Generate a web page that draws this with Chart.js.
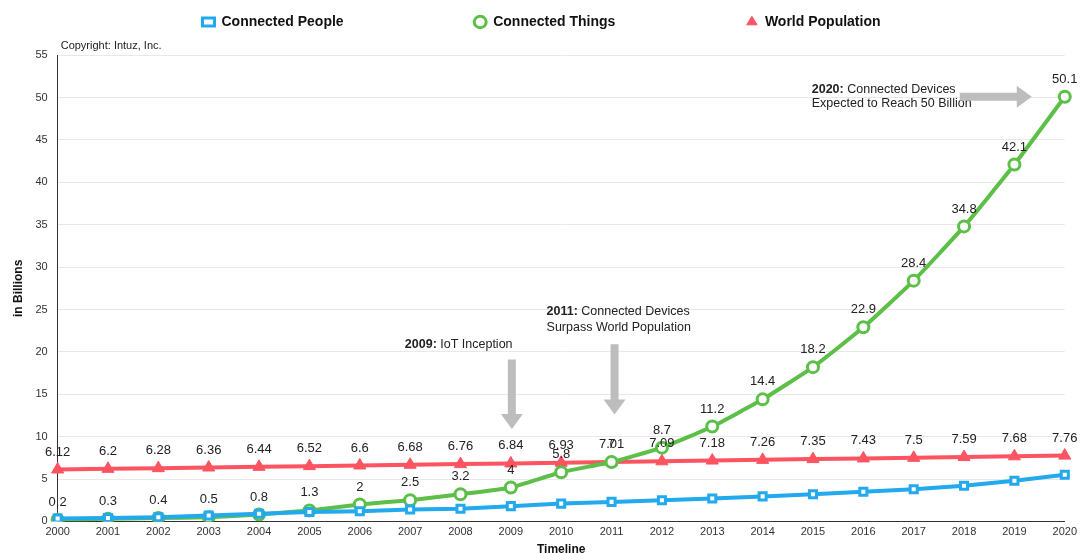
<!DOCTYPE html>
<html>
<head>
<meta charset="utf-8">
<script src="https://cdn.jsdelivr.net/npm/chart.js@4.4.0/dist/chart.umd.min.js"></script>
<style>
  html, body { margin: 0; padding: 0; background: #fff; }
  #wrap { width: 1081px; height: 553px; }
</style>
</head>
<body>
<div id="wrap"><canvas id="iot-chart"></canvas></div>
<script>
var years = ["2000","2001","2002","2003","2004","2005","2006","2007","2008","2009","2010",
             "2011","2012","2013","2014","2015","2016","2017","2018","2019","2020"];
var connectedPeople = [0.35, 0.4, 0.5, 0.7, 0.9, 1.1, 1.2, 1.4, 1.5, 1.8, 2.1,
                       2.3, 2.5, 2.7, 2.95, 3.2, 3.5, 3.8, 4.2, 4.8, 5.5];
var connectedThings = [0.2, 0.3, 0.4, 0.5, 0.8, 1.3, 2, 2.5, 3.2, 4, 5.8,
                       7, 8.7, 11.2, 14.4, 18.2, 22.9, 28.4, 34.8, 42.1, 50.1];
var worldPopulation = [6.12, 6.2, 6.28, 6.36, 6.44, 6.52, 6.6, 6.68, 6.76, 6.84, 6.93,
                       7.01, 7.09, 7.18, 7.26, 7.35, 7.43, 7.5, 7.59, 7.68, 7.76];
var yTicks = [0, 5, 10, 15, 20, 25, 30, 35, 40, 45, 50, 55];

var FONT = "'Liberation Sans', Arial, Helvetica, sans-serif";
var GAP = "\u00a0".repeat(31);

// value labels above the points (green and red series only)
var valueLabels = {
	id: "valueLabels",
	afterDatasetsDraw: function (chart) {
		var ctx = chart.ctx;
		ctx.save();
		ctx.font = "13px " + FONT;
		ctx.fillStyle = "#222";
		ctx.textAlign = "center";
		ctx.textBaseline = "bottom";
		[1, 2].forEach(function (di) {
			var meta = chart.getDatasetMeta(di);
			var data = chart.data.datasets[di].data;
			meta.data.forEach(function (pt, i) {
				ctx.fillText(String(data[i]), pt.x, pt.y - 11);
			});
		});
		ctx.restore();
	}
};

function grayArrow(ctx, x1, y1, x2, y2) {
	var ang = Math.atan2(y2 - y1, x2 - x1);
	var len = Math.hypot(x2 - x1, y2 - y1);
	var head = 15, shaft = 4, hw = 11;
	ctx.save();
	ctx.translate(x1, y1);
	ctx.rotate(ang);
	ctx.fillStyle = "#bdbdbd";
	ctx.beginPath();
	ctx.moveTo(0, -shaft);
	ctx.lineTo(len - head, -shaft);
	ctx.lineTo(len - head, -hw);
	ctx.lineTo(len, 0);
	ctx.lineTo(len - head, hw);
	ctx.lineTo(len - head, shaft);
	ctx.lineTo(0, shaft);
	ctx.closePath();
	ctx.fill();
	ctx.restore();
}

function noteText(ctx, x, y, bold, rest) {
	ctx.font = "bold 12.5px " + FONT;
	ctx.fillText(bold, x, y);
	var w = ctx.measureText(bold).width;
	ctx.font = "12.5px " + FONT;
	ctx.fillText(rest, x + w, y);
}

var notes = {
	id: "notes",
	afterDraw: function (chart) {
		var ctx = chart.ctx;
		var xs = chart.scales.x, ys = chart.scales.y;
		ctx.save();
		ctx.fillStyle = "#222";
		ctx.textBaseline = "middle";
		ctx.textAlign = "left";

		// 2009
		var x09 = xs.getPixelForValue(9);
		noteText(ctx, x09 - 106, ys.getPixelForValue(20.9), "2009:", " IoT Inception");
		grayArrow(ctx, x09 + 1, ys.getPixelForValue(19.1), x09 + 1, ys.getPixelForValue(10.9));

		// 2011
		var x11 = xs.getPixelForValue(11);
		noteText(ctx, x11 - 65, ys.getPixelForValue(24.7), "2011:", " Connected Devices");
		ctx.font = "12.5px " + FONT;
		ctx.fillText("Surpass World Population", x11 - 65, ys.getPixelForValue(22.9));
		grayArrow(ctx, x11 + 3, ys.getPixelForValue(20.9), x11 + 3, ys.getPixelForValue(12.6));

		// 2020
		var x20 = xs.getPixelForValue(20);
		noteText(ctx, x20 - 253, ys.getPixelForValue(51.0), "2020:", " Connected Devices");
		ctx.font = "12.5px " + FONT;
		ctx.fillText("Expected to Reach 50 Billion", x20 - 253, ys.getPixelForValue(49.3));
		grayArrow(ctx, x20 - 105, ys.getPixelForValue(50.1), x20 - 33, ys.getPixelForValue(50.1));
		ctx.restore();
	}
};

var ctx1 = document.getElementById("iot-chart");

var chart1 = new Chart(ctx1, {
	type: "line",
	data: {
		labels: years,
		datasets: [
			{
				label: "Connected People",
				data: connectedPeople,
				borderColor: "#22a9ee",
				backgroundColor: "#ffffff",
				borderWidth: 4,
				pointStyle: "rect",
				pointRadius: 5,
				pointBorderWidth: 3,
				pointBackgroundColor: "#ffffff",
				tension: 0
			},
			{
				label: "Connected Things",
				data: connectedThings,
				borderColor: "#5cbf48",
				backgroundColor: "#ffffff",
				borderWidth: 4,
				pointStyle: "circle",
				pointRadius: 5.5,
				pointBorderWidth: 3,
				pointBackgroundColor: "#ffffff",
				tension: 0.15
			},
			{
				label: "World Population",
				data: worldPopulation,
				borderColor: "#fd5461",
				backgroundColor: "#fd5461",
				borderWidth: 4,
				pointStyle: "triangle",
				pointRadius: 7,
				pointBorderWidth: 1,
				pointBackgroundColor: "#fd5461",
				tension: 0
			}
		]
	},
	options: {
		responsive: true,
		maintainAspectRatio: false,
		animation: false,
		layout: { padding: { left: 11, right: 9, top: 5, bottom: -4 } },
		plugins: {
			legend: {
				display: true,
				position: "top",
				labels: {
					usePointStyle: true,
					pointStyleWidth: 12,
					boxHeight: 8,
					padding: 10,
					color: "#111",
					font: { family: FONT, size: 14, weight: "bold" },
					generateLabels: function (chart) {
						var items = Chart.defaults.plugins.legend.labels.generateLabels(chart);
						items.forEach(function (it, i) {
							if (i < items.length - 1) it.text = it.text + GAP;
						});
						return items;
					}
				}
			},
			subtitle: {
				display: true,
				text: "\u00a0Copyright: Intuz, Inc.",
				align: "start",
				position: "top",
				fullSize: false,
				weight: 500,
				color: "#222",
				font: { family: FONT, size: 11, weight: "normal" },
				padding: { top: 0, bottom: 3 }
			},
			tooltip: { enabled: false }
		},
		scales: {
			x: {
				offset: false,
				grid: { display: false, drawTicks: false },
				border: { display: true, color: "#333", width: 1 },
				ticks: { color: "#333", font: { family: FONT, size: 11 }, padding: 4, maxRotation: 0, autoSkip: false },
				title: { display: true, text: "Timeline", color: "#111", font: { family: FONT, size: 12, weight: "bold" }, padding: { top: 0, bottom: 0 } }
			},
			y: {
				min: 0,
				max: 55,
				afterBuildTicks: function (axis) {
					axis.ticks = yTicks.map(function (v) { return { value: v }; });
				},
				grid: { color: "#e8e8e8", drawTicks: false },
				border: { display: true, color: "#333", width: 1 },
				ticks: { color: "#333", font: { family: FONT, size: 11 }, padding: 10 },
				title: { display: true, text: "in Billions", color: "#111", font: { family: FONT, size: 12, weight: "bold" }, padding: { top: 0, bottom: 0 } }
			}
		}
	},
	plugins: [valueLabels, notes]
});
</script>
</body>
</html>
